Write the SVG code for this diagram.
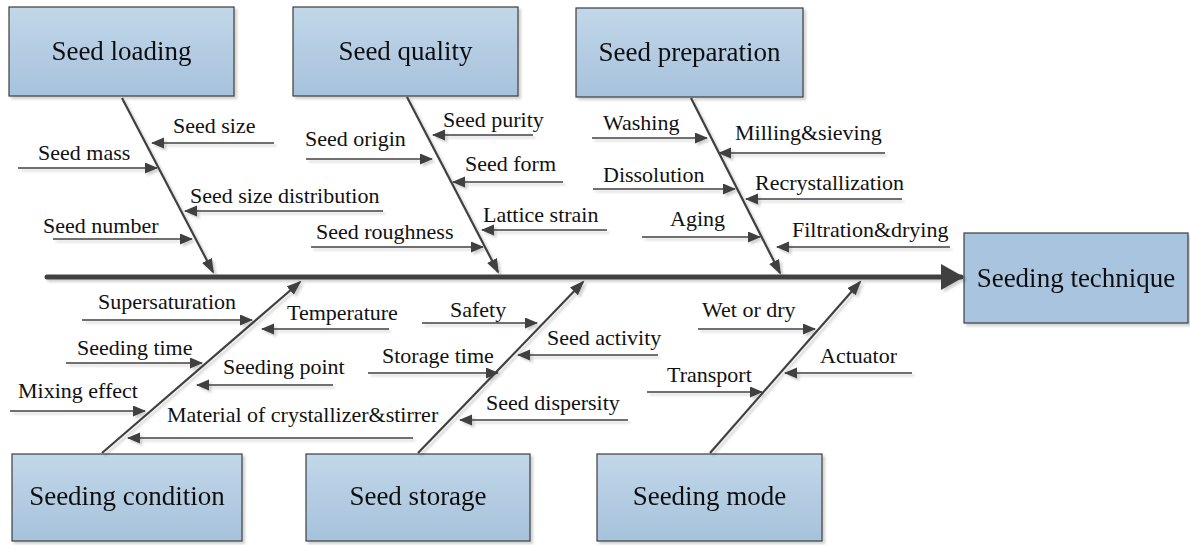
<svg xmlns="http://www.w3.org/2000/svg" width="1190" height="545" viewBox="0 0 1190 545">
  <defs>
    <linearGradient id="boxg" x1="0" y1="0" x2="0" y2="1">
      <stop offset="0" stop-color="#c2d7e9"/>
      <stop offset="1" stop-color="#a6c2dc"/>
    </linearGradient>
    <filter id="sh" x="-10%" y="-10%" width="130%" height="130%">
      <feDropShadow dx="2.5" dy="2.5" stdDeviation="0.8" flood-color="#000" flood-opacity="0.18"/>
    </filter>
    <marker id="ah" markerUnits="userSpaceOnUse" markerWidth="14" markerHeight="12" refX="12" refY="5.5" orient="auto">
      <path d="M0,0 L13,5.5 L0,11 z" fill="#404040"/>
    </marker>
    <marker id="bh" markerUnits="userSpaceOnUse" markerWidth="16" markerHeight="12" refX="13" refY="5.5" orient="auto">
      <path d="M0,0 L15,5.5 L0,11 z" fill="#404040"/>
    </marker>
    <marker id="sp" markerUnits="userSpaceOnUse" markerWidth="24" markerHeight="28" refX="20" refY="13" orient="auto">
      <path d="M0,0 L23,13 L0,26 z" fill="#404040"/>
    </marker>
  </defs>
  <style>
    .box { fill: url(#boxg); stroke: #3c3c3c; stroke-width: 1.2; }
    .head { fill: #a8c4de; stroke: #3c3c3c; stroke-width: 1.2; }
    .bt { font-size: 27px; fill: #111; text-anchor: middle; }
    .lb { font-size: 22px; fill: #111; }
    .br { stroke: #404040; stroke-width: 1.5; fill: none; marker-end: url(#ah); }
    .bone { stroke: #404040; stroke-width: 2.2; fill: none; marker-end: url(#bh); }
    .spine { stroke: #404040; stroke-width: 5; fill: none; stroke-linecap: round; marker-end: url(#sp); }
  </style>
  <rect width="1190" height="545" fill="#ffffff"/>

  <g font-family="Liberation Serif, DejaVu Serif, serif">
  <g id="node-seed-loading" filter="url(#sh)">
    <rect class="box" x="9" y="7" width="225" height="89"/>
    <text class="bt" x="121.5" y="60">Seed loading</text>
  </g>
  <g id="node-seed-quality" filter="url(#sh)">
    <rect class="box" x="293" y="7" width="225" height="89"/>
    <text class="bt" x="405.5" y="60">Seed quality</text>
  </g>
  <g id="node-seed-preparation" filter="url(#sh)">
    <rect class="box" x="576" y="8" width="227" height="89"/>
    <text class="bt" x="689.5" y="61">Seed preparation</text>
  </g>
  <g id="node-seeding-technique" filter="url(#sh)">
    <rect class="head" x="964" y="233" width="224" height="90"/>
    <text class="bt" x="1076" y="287">Seeding technique</text>
  </g>
  <g id="node-seeding-condition" filter="url(#sh)">
    <rect class="box" x="12" y="454" width="230" height="87"/>
    <text class="bt" x="127" y="505">Seeding condition</text>
  </g>
  <g id="node-seed-storage" filter="url(#sh)">
    <rect class="box" x="306" y="454" width="224" height="87"/>
    <text class="bt" x="418" y="505">Seed storage</text>
  </g>
  <g id="node-seeding-mode" filter="url(#sh)">
    <rect class="box" x="597" y="454" width="225" height="87"/>
    <text class="bt" x="709.5" y="505">Seeding mode</text>
  </g>
  </g>

  <g id="connectors" filter="url(#sh)">
    <path class="spine" d="M47,277 L961,277"/>
    <path class="bone" d="M122,98 L213,272"/>
    <path class="bone" d="M407,97 L498,272"/>
    <path class="bone" d="M691,98 L780,273"/>
    <path class="bone" d="M102,453 L300,282"/>
    <path class="bone" d="M418,453 L583,282"/>
    <path class="bone" d="M710,453 L860,282"/>

    <path class="br" d="M274,143 L152,143"/>
    <path class="br" d="M18,168 L157,168"/>
    <path class="br" d="M383,211 L185,211"/>
    <path class="br" d="M53,239 L192,239"/>

    <path class="br" d="M533,135 L433,135"/>
    <path class="br" d="M306,159 L432,159"/>
    <path class="br" d="M563,182 L453,182"/>
    <path class="br" d="M607,230 L482,230"/>
    <path class="br" d="M311,247 L483,247"/>

    <path class="br" d="M592,138 L707,138"/>
    <path class="br" d="M885,153 L719,153"/>
    <path class="br" d="M593,189 L735,189"/>
    <path class="br" d="M902,199 L746,199"/>
    <path class="br" d="M642,237 L760,237"/>
    <path class="br" d="M950,247 L777,247"/>

    <path class="br" d="M82,320 L252,320"/>
    <path class="br" d="M389,329 L262,329"/>
    <path class="br" d="M66,363 L202,363"/>
    <path class="br" d="M333,385 L197,385"/>
    <path class="br" d="M10,411 L145,411"/>
    <path class="br" d="M413,438 L128,438"/>

    <path class="br" d="M422,323 L537,323"/>
    <path class="br" d="M658,355 L518,355"/>
    <path class="br" d="M368,373 L498,373"/>
    <path class="br" d="M628,420 L460,420"/>

    <path class="br" d="M698,329 L815,329"/>
    <path class="br" d="M912,373 L785,373"/>
    <path class="br" d="M647,392 L762,392"/>
  </g>

  <g id="labels" font-family="Liberation Serif, DejaVu Serif, serif">
    <text class="lb" x="173" y="133">Seed size</text>
    <text class="lb" x="38" y="160">Seed mass</text>
    <text class="lb" x="190" y="203">Seed size distribution</text>
    <text class="lb" x="43" y="233">Seed number</text>

    <text class="lb" x="443" y="127">Seed purity</text>
    <text class="lb" x="305" y="146">Seed origin</text>
    <text class="lb" x="465" y="171">Seed form</text>
    <text class="lb" x="483" y="222">Lattice strain</text>
    <text class="lb" x="316" y="239">Seed roughness</text>

    <text class="lb" x="603" y="130">Washing</text>
    <text class="lb" x="735" y="140">Milling&amp;sieving</text>
    <text class="lb" x="603" y="182">Dissolution</text>
    <text class="lb" x="755" y="190">Recrystallization</text>
    <text class="lb" x="670" y="226">Aging</text>
    <text class="lb" x="792" y="237">Filtration&amp;drying</text>

    <text class="lb" x="98" y="309">Supersaturation</text>
    <text class="lb" x="287" y="320">Temperature</text>
    <text class="lb" x="77" y="355">Seeding time</text>
    <text class="lb" x="223" y="374">Seeding point</text>
    <text class="lb" x="18" y="398">Mixing effect</text>
    <text class="lb" x="167" y="422">Material of crystallizer&amp;stirrer</text>

    <text class="lb" x="450" y="317">Safety</text>
    <text class="lb" x="547" y="345">Seed activity</text>
    <text class="lb" x="382" y="363">Storage time</text>
    <text class="lb" x="486" y="410">Seed dispersity</text>

    <text class="lb" x="702" y="317">Wet or dry</text>
    <text class="lb" x="820" y="363">Actuator</text>
    <text class="lb" x="667" y="382">Transport</text>
  </g>
</svg>
